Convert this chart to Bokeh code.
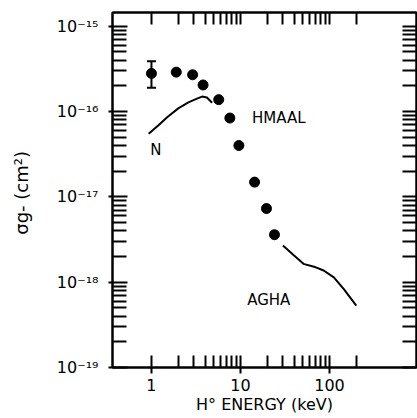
from bokeh.plotting import figure
from bokeh.models import (LogAxis, FixedTicker, Range1d, Whisker, ColumnDataSource,
                          TeeHead, CustomJSTickFormatter)
from bokeh.embed import file_html
from bokeh.resources import INLINE
from bokeh.core.properties import value

# ---------------- data ----------------
hmaal_energy = [1.0, 1.9, 2.9, 3.8, 5.7, 7.6, 9.6, 14.4, 19.6, 24.1]
hmaal_sigma = [2.8e-16, 2.9e-16, 2.7e-16, 2.05e-16, 1.38e-16, 8.4e-17, 4.0e-17,
               1.49e-17, 7.3e-18, 3.6e-18]
err_energy = [1.0]
err_low = [1.9e-16]
err_high = [3.9e-16]

n_energy = [0.93, 1.2, 1.5, 2.0, 2.6, 3.2, 3.7, 4.2, 4.8]
n_sigma = [5.5e-17, 6.9e-17, 8.6e-17, 1.09e-16, 1.28e-16, 1.41e-16, 1.5e-16,
           1.46e-16, 1.27e-16]

agha_energy = [30, 40, 51, 67, 86, 112, 145, 200]
agha_sigma = [2.7e-18, 2.05e-18, 1.64e-18, 1.52e-18, 1.37e-18, 1.14e-18,
              8.3e-19, 5.3e-19]

label_text = ["N", "HMAAL", "AGHA"]
label_x = [0.97, 13.5, 11.9]
label_y = [3.5e-17, 8.5e-17, 6.25e-19]

x_major = [1, 10, 100]
x_minor = [2, 3, 4, 5, 6, 7, 8, 9, 20, 30, 40, 50, 60, 70, 80, 90, 200]
x_labels = ["1", "10", "100"]
y_exponents = [-19, -18, -17, -16, -15]
y_labels = ["10⁻¹⁹", "10⁻¹⁸", "10⁻¹⁷", "10⁻¹⁶", "10⁻¹⁵"]

x_range = (0.365, 950)
y_range = (1e-19, 1.45e-15)

# ---------------- figure ----------------
FONT = "DejaVu Sans"
INK = "black"

p = figure(width=417, height=418,
           min_border_left=112, min_border_top=12, min_border_right=1,
           min_border_bottom=51,
           x_axis_type="log", y_axis_type="log",
           x_range=Range1d(*x_range), y_range=Range1d(*y_range),
           output_backend="svg", toolbar_location=None,
           background_fill_color="white", border_fill_color="white")
p.grid.visible = False
p.outline_line_color = INK
p.outline_line_width = 2

y_major = [10.0 ** e for e in y_exponents]
y_minor = [k * 10.0 ** e for e in y_exponents[:-1] for k in range(2, 10)]

xt = FixedTicker(ticks=x_major, minor_ticks=x_minor)
yt = FixedTicker(ticks=y_major, minor_ticks=y_minor)


def style_ticks(ax, maj_in, maj_out, min_in):
    ax.major_tick_in = maj_in
    ax.major_tick_out = maj_out
    ax.minor_tick_in = min_in
    ax.minor_tick_out = 0
    ax.axis_line_width = 2
    ax.axis_line_color = INK
    ax.major_tick_line_color = INK
    ax.minor_tick_line_color = INK
    ax.major_tick_line_width = 2
    ax.minor_tick_line_width = 2


# bottom axis
xa = p.xaxis[0]
xa.ticker = xt
xa.major_label_overrides = {v: s for v, s in zip(x_major, x_labels)}
style_ticks(xa, 12, 6, 12)
xa.major_label_text_font = FONT
xa.major_label_text_font_size = "16px"
xa.major_label_text_color = INK
xa.major_label_standoff = 5
xa.axis_label = "H° ENERGY (keV)"
xa.axis_label_text_font = FONT
xa.axis_label_text_font_size = "16px"
xa.axis_label_text_font_style = "normal"
xa.axis_label_text_color = INK
xa.axis_label_standoff = 1

# left axis
ya = p.yaxis[0]
ya.ticker = yt
ya.major_label_overrides = {v: s for v, s in zip(y_major, y_labels)}
style_ticks(ya, 15, 4, 14)
ya.major_label_text_font = FONT
ya.major_label_text_font_size = "16px"
ya.major_label_text_color = INK
ya.major_label_standoff = 10
ya.axis_label = "σg-  (cm²)"
ya.axis_label_text_font = FONT
ya.axis_label_text_font_size = "18px"
ya.axis_label_text_font_style = "normal"
ya.axis_label_text_color = INK
ya.axis_label_standoff = 22

blank = CustomJSTickFormatter(code="return ''")

top = LogAxis(ticker=xt, formatter=blank, major_label_text_font_size="0px",
              major_label_standoff=0)
style_ticks(top, 12, 0, 12)
p.add_layout(top, "above")

right = LogAxis(ticker=yt, formatter=blank, major_label_text_font_size="0px",
                major_label_standoff=0)
style_ticks(right, 14, 0, 14)
p.add_layout(right, "right")

# ---------------- glyphs ----------------
p.line(n_energy, n_sigma, line_color=INK, line_width=2)
p.line(agha_energy, agha_sigma, line_color=INK, line_width=2)
p.scatter(hmaal_energy, hmaal_sigma, size=10, color=INK)

esrc = ColumnDataSource(dict(x=err_energy, lo=err_low, hi=err_high))
p.add_layout(Whisker(source=esrc, base="x", lower="lo", upper="hi",
                     dimension="height", line_width=2, line_color=INK,
                     upper_head=TeeHead(size=9, line_width=2, line_color=INK),
                     lower_head=TeeHead(size=9, line_width=2, line_color=INK)))

p.text(x=label_x, y=label_y, text=label_text, text_font=value(FONT),
       text_font_size="15px", text_align="left", text_baseline="middle",
       text_color=INK)

open("out.html", "w").write(file_html(p, INLINE))
